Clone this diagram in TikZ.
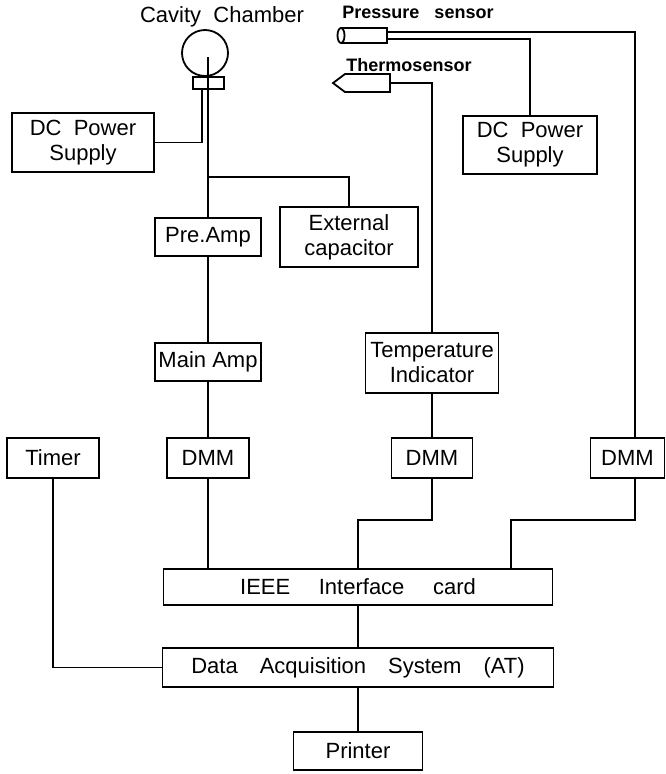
\documentclass[tikz,border=0pt]{standalone}
\usepackage{fontspec}
\setmainfont{Liberation Sans}
\begin{document}
\begin{tikzpicture}[x=1pt,y=-1pt,
  box/.style={draw, line width=1.8pt, inner sep=0pt, align=center, font=\fontsize{22}{25}\selectfont},
  wire/.style={line width=1.8pt},
  lbl/.style={font=\bfseries\fontsize{18}{20}\selectfont, inner sep=0pt},
  txt/.style={font=\fontsize{22}{25}\selectfont, inner sep=0pt}]
\useasboundingbox (0,0) rectangle (666,774);

% boxes
\node[box, minimum width=142pt, minimum height=59pt] (dc1) at (83,142.5) {DC\ \ Power\\Supply};
\node[box, minimum width=106pt, minimum height=38pt] (preamp) at (208,237) {Pre.Amp};
\node[box, minimum width=138pt, minimum height=60pt] (extcap) at (349,237) {External\\capacitor};
\node[box, minimum width=106pt, minimum height=38pt] (mainamp) at (208,362) {Main Amp};
\node[box, minimum width=133pt, minimum height=60pt] (temp) at (432,363) {Temperature\\Indicator};
\node[box, minimum width=134pt, minimum height=58pt] (dc2) at (530,145) {DC\ \ Power\\Supply};
\node[box, minimum width=92pt, minimum height=40pt] (timer) at (53,458) {Timer};
\node[box, minimum width=82pt, minimum height=40pt] (dmm1) at (208,458) {DMM};
\node[box, minimum width=81pt, minimum height=40pt] (dmm2) at (432,458) {DMM};
\node[box, minimum width=74pt, minimum height=40pt] (dmm3) at (627.5,458) {DMM};
\node[box, minimum width=389pt, minimum height=36pt] (ieee) at (358,587) {IEEE\hspace{1.3em}Interface\hspace{1.3em}card};
\node[box, minimum width=391pt, minimum height=39pt] (das) at (358,667.5) {Data\hspace{1.0em}Acquisition\hspace{1.0em}System\hspace{1.0em}(AT)};
\node[box, minimum width=129pt, minimum height=38pt] (printer) at (358,751) {Printer};

% cavity chamber
\node[txt] (clabel) at (222,17) {Cavity\ \ Chamber};
\node[draw, circle, line width=1.8pt, minimum size=46pt, inner sep=0pt] (cav) at (205,53) {};
\node[draw, line width=1.8pt, minimum width=31pt, minimum height=12pt, inner sep=0pt, fill=white] (cbase) at (208.5,83) {};
\coordinate (cin) at (208,57);
\coordinate (cl) at (202,89);
\coordinate (jc) at (208,177);
\draw[wire] (cin) -- (cin |- preamp.north);
\draw[wire] (cl) |- (dc1.east);
\draw[wire] (jc) -| (extcap.north);
\draw[wire] (preamp.south) -- (mainamp.north);
\draw[wire] (mainamp.south) -- (dmm1.north);
\draw[wire] (dmm1.south) -- (dmm1.south |- ieee.north);

% pressure sensor
\node[lbl] (plabel) at (418,12) {Pressure\ \ \ sensor};
\draw[wire] (341,28) -- (387,28) -- (387,43) -- (341,43);
\draw[wire] (341,35.5) ellipse [x radius=3.5pt, y radius=7.5pt];
\coordinate (psE) at (387,35.5);
\coordinate (xr) at (635,0);
\draw[wire] ([yshift=3.5pt]psE) -| (xr |- dmm3.north);
\draw[wire] ([yshift=-3.5pt]psE) -| (dc2.north);

% thermosensor
\node[lbl] (tlabel) at (409,65) {Thermosensor};
\draw[wire] (345,74) -- (390,74) -- (390,92) -- (345,92) -- (333,83) -- cycle;
\coordinate (thE) at (390,83);
\draw[wire] (thE) -| (temp.north);
\draw[wire] (temp.south) -- (dmm2.north);

% to interface
\coordinate (b2) at (358,520);
\coordinate (b3) at (511,520);
\draw[wire] (dmm2.south) |- (b2) -- (b2 |- ieee.north);
\draw[wire] (xr |- dmm3.south) |- (b3) -- (b3 |- ieee.north);
\draw[wire] (ieee.south) -- (das.north);
\draw[wire] (das.south) -- (printer.north);
\draw[wire] (timer.south) |- (das.west);
\end{tikzpicture}
\end{document}
